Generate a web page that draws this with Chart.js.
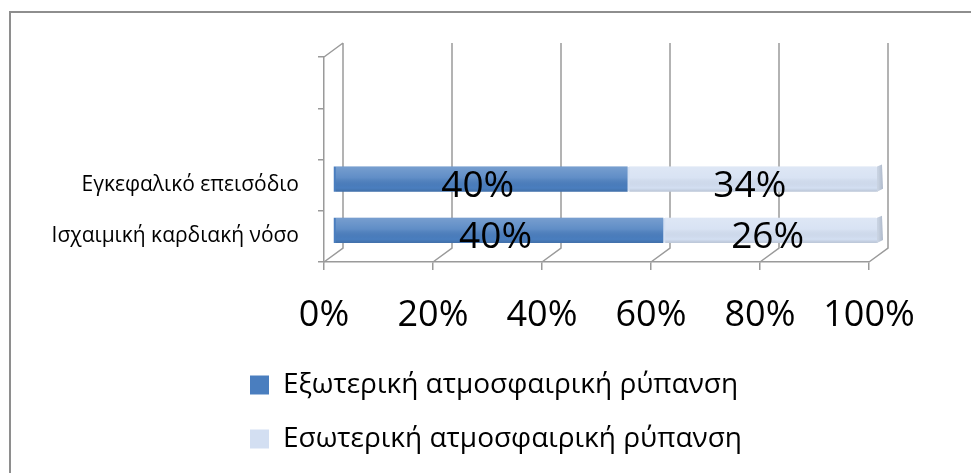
<!DOCTYPE html>
<html><head><meta charset="utf-8">
<script src="https://cdn.jsdelivr.net/npm/chart.js@4.4.1/dist/chart.umd.min.js"></script>
<style>
html,body{margin:0;padding:0;background:#fff;}
#wrap{position:relative;width:971px;height:473px;overflow:hidden;}
#frame{position:absolute;left:9px;top:11px;width:1000px;height:500px;border-top:2px solid #8e8e8e;border-left:2px solid #8e8e8e;box-sizing:border-box;}
canvas{position:absolute;left:0;top:0;}
</style></head><body>
<div id="wrap"><div id="frame"></div><canvas id="c" width="971" height="473"></canvas></div>
<script>
const categories = ['', '', 'Εγκεφαλικό επεισόδιο', 'Ισχαιμική καρδιακή νόσο'];
const seriesNames = ['Εξωτερική ατμοσφαιρική ρύπανση', 'Εσωτερική ατμοσφαιρική ρύπανση'];
const outdoorValues = [null, null, 40, 40];
const indoorValues = [null, null, 34, 26];
const xTickValues = [0, 20, 40, 60, 80, 100];

const rawSeries = [outdoorValues, indoorValues];
const totals = categories.map((c, i) => (outdoorValues[i] || 0) + (indoorValues[i] || 0));
const share = arr => arr.map((v, i) => v == null ? null : v / totals[i] * 100);

const FONT = "'Open Sans', 'Noto Sans', sans-serif";
const DX = 19, DY = 14, BX = 9, BY = -6;
const GRID = '#9a9a9a';
const LEGEND_PAD = 26;

const legendShift = {
  id: 'legendShift',
  afterUpdate(chart) {
    const lg = chart.legend;
    if (lg) { lg.left = 250 - LEGEND_PAD; }
  }
};

const depthPlugin = {
  id: 'depth',
  beforeDatasetsDraw(chart) {
    const {ctx, chartArea: a, scales: {x}} = chart;
    ctx.save();
    ctx.strokeStyle = GRID; ctx.lineWidth = 1.5;
    ctx.beginPath();
    xTickValues.forEach(v => {
      const px = x.getPixelForValue(v);
      ctx.moveTo(px, a.bottom); ctx.lineTo(px + DX, a.bottom - DY); ctx.lineTo(px + DX, a.top - DY);
    });
    ctx.moveTo(a.left, a.top); ctx.lineTo(a.left + DX, a.top - DY);
    ctx.stroke();
    ctx.restore();
    ctx.save();
    ctx.translate(BX, BY);
  },
  afterDatasetsDraw(chart) {
    const {ctx} = chart;
    chart.data.datasets.forEach((ds, di) => {
      chart.getDatasetMeta(di).data.forEach((el, i) => {
        if (rawSeries[di][i] == null) return;
        const h = el.height, top = el.y - h / 2;
        const l = Math.min(el.x, el.base), w = Math.abs(el.x - el.base);
        const g = ctx.createLinearGradient(0, top, 0, top + h);
        g.addColorStop(0, 'rgba(255,255,255,0.25)');
        g.addColorStop(0.45, 'rgba(255,255,255,0.12)');
        g.addColorStop(0.85, 'rgba(0,0,0,0.0)');
        g.addColorStop(1, 'rgba(0,0,0,0.12)');
        ctx.fillStyle = g;
        ctx.fillRect(l + 2, top, w - 2, h);
        if (di === chart.data.datasets.length - 1) {
          const r = Math.max(el.x, el.base);
          const cg = ctx.createLinearGradient(r, 0, r + 6, 0);
          cg.addColorStop(0, '#c9d3e2'); cg.addColorStop(1, '#a9b4c6');
          ctx.fillStyle = cg;
          ctx.beginPath();
          ctx.moveTo(r - 1, top); ctx.lineTo(r + 4, top - 2); ctx.lineTo(r + 5, top + h - 3); ctx.lineTo(r - 1, top + h);
          ctx.closePath(); ctx.fill();
        }
      });
    });
    ctx.restore();
    ctx.save();
    ctx.font = `37px ${FONT}`;
    ctx.fillStyle = '#000';
    ctx.textAlign = 'center';
    ctx.textBaseline = 'middle';
    chart.data.datasets.forEach((ds, di) => {
      chart.getDatasetMeta(di).data.forEach((el, i) => {
        const v = rawSeries[di][i];
        if (v == null) return;
        ctx.fillText(v + '%', (el.x + el.base) / 2 + 6, el.y + 1);
      });
    });
    ctx.restore();
  }
};

new Chart(document.getElementById('c'), {
  type: 'bar',
  data: {
    labels: categories,
    datasets: [
      {label: seriesNames[0], data: share(outdoorValues), backgroundColor: '#4a7ebf', borderWidth: 0, borderRadius: 4, borderSkipped: false},
      {label: seriesNames[1], data: share(indoorValues), backgroundColor: '#d3dff2', borderWidth: 0, borderRadius: 2, borderSkipped: false}
    ]
  },
  options: {
    indexAxis: 'y',
    responsive: false,
    animation: false,
    devicePixelRatio: 1,
    datasets: {bar: {categoryPercentage: 1, barPercentage: 0.49, clip: false}},
    layout: {padding: {left: 20, right: 102, top: 57, bottom: 10}},
    scales: {
      x: {
        stacked: true, min: 0, max: 100,
        afterBuildTicks: s => { s.ticks = xTickValues.map(v => ({value: v})); },
        ticks: {callback: v => v + '%', font: {family: FONT, size: 36}, color: '#000', padding: 24, maxRotation: 0, autoSkip: false},
        grid: {drawOnChartArea: false, drawTicks: true, tickLength: 8, color: GRID, lineWidth: 1.5},
        border: {display: true, color: GRID, width: 1.5},
        afterFit: s => { s.height = 83; }
      },
      y: {
        stacked: true,
        ticks: {font: {family: FONT, size: 21}, color: '#000', padding: 19, autoSkip: false},
        grid: {drawOnChartArea: false, drawTicks: true, tickLength: 6, color: GRID, lineWidth: 1.5, offset: true},
        border: {display: true, color: GRID, width: 1.5},
        afterFit: s => { s.width = 304; }
      }
    },
    plugins: {
      legend: {position: 'bottom', align: 'start',
        labels: {font: {family: FONT, size: 28}, color: '#000', boxWidth: 19, boxHeight: 19, padding: LEGEND_PAD}},
      tooltip: {enabled: false}
    }
  },
  plugins: [depthPlugin, legendShift]
});
</script>
</body></html>
